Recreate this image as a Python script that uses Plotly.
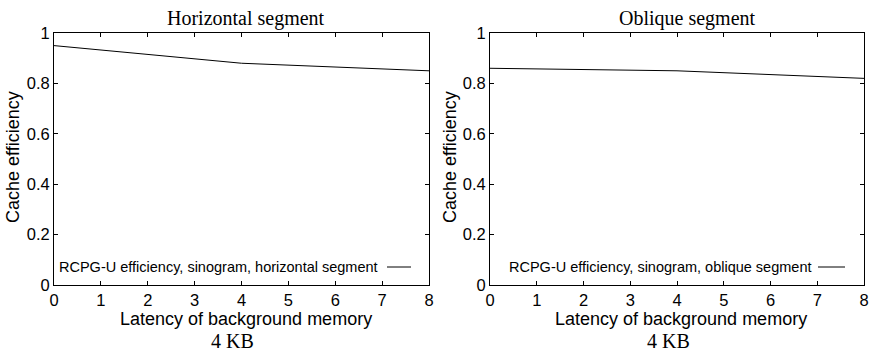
import plotly.graph_objects as go

# ---- data ----
latency = [0, 4, 8]
eff_horizontal = [0.95, 0.88, 0.85]
eff_oblique = [0.86, 0.85, 0.82]
series_names = ["RCPG-U efficiency, sinogram, horizontal segment",
                "RCPG-U efficiency, sinogram, oblique segment"]
panel_titles = ["Horizontal segment", "Oblique segment"]
panel_captions = ["4 KB", "4 KB"]
x_title = "Latency of background memory"
y_title = "Cache efficiency"
x_ticks = [0, 1, 2, 3, 4, 5, 6, 7, 8]
y_ticks = [0, 0.2, 0.4, 0.6, 0.8, 1]

W, H = 873, 353
SANS = "Liberation Sans, Arial, Helvetica, sans-serif"
SERIF = "Liberation Serif, Times New Roman, serif"

def px(x):
    return x / W

def py(y):
    return 1 - y / H

fig = go.Figure()
fig.add_trace(go.Scatter(x=latency, y=eff_horizontal, mode="lines", name=series_names[0],
                         line=dict(color="black", width=1), xaxis="x", yaxis="y", showlegend=False))
fig.add_trace(go.Scatter(x=latency, y=eff_oblique, mode="lines", name=series_names[1],
                         line=dict(color="black", width=1), xaxis="x2", yaxis="y2", showlegend=False))

# plot areas (pixels)
left_box = (54, 429)
right_box = (490, 864)
top_px, bottom_px = 33, 285

axis_common = dict(showline=True, linecolor="black", linewidth=1, mirror="ticks",
                   ticks="inside", ticklen=4, tickwidth=1, tickcolor="black",
                   showgrid=False, zeroline=False, automargin=False,
                   tickfont=dict(family=SANS, size=16.5, color="black"))

fig.update_layout(
    width=W, height=H,
    margin=dict(l=0, r=0, t=0, b=0, autoexpand=False),
    paper_bgcolor="white", plot_bgcolor="white",
    showlegend=False,
    xaxis=dict(domain=[px(left_box[0]), px(left_box[1])], range=[0, 8], tickvals=x_ticks,
               anchor="y", ticklabelstandoff=0, **axis_common),
    yaxis=dict(domain=[py(bottom_px), py(top_px)], range=[0, 1], tickvals=y_ticks,
               anchor="x", **axis_common),
    xaxis2=dict(domain=[px(right_box[0]), px(right_box[1])], range=[0, 8], tickvals=x_ticks,
                anchor="y2", ticklabelstandoff=0, **axis_common),
    yaxis2=dict(domain=[py(bottom_px), py(top_px)], range=[0, 1], tickvals=y_ticks,
                anchor="x2", **axis_common),
)

ann = []
shapes = []
panels = [
    dict(box=left_box, title_x=246, cap_x=232, ytitle_x=13, leg_right=380, line=(387, 411)),
    dict(box=right_box, title_x=687, cap_x=668, ytitle_x=450, leg_right=813, line=(818, 845)),
]
for i, p in enumerate(panels):
    cx = (p["box"][0] + p["box"][1]) / 2
    ann.append(dict(text=panel_titles[i], x=px(p["title_x"]), y=py(18), xref="paper", yref="paper",
                    xanchor="center", yanchor="middle", showarrow=False,
                    font=dict(family=SERIF, size=20, color="black")))
    ann.append(dict(text=panel_captions[i], x=px(p["cap_x"]), y=py(341), xref="paper", yref="paper",
                    xanchor="center", yanchor="middle", showarrow=False,
                    font=dict(family=SERIF, size=20, color="black")))
    ann.append(dict(text=x_title, x=px(cx + 4), y=py(319), xref="paper", yref="paper",
                    xanchor="center", yanchor="middle", showarrow=False,
                    font=dict(family=SANS, size=18, color="black")))
    ann.append(dict(text=y_title, x=px(p["ytitle_x"]), y=py(157), xref="paper", yref="paper",
                    xanchor="center", yanchor="middle", textangle=-90, showarrow=False,
                    font=dict(family=SANS, size=18, color="black")))
    ann.append(dict(text=series_names[i], x=px(p["leg_right"]), y=py(267), xref="paper", yref="paper",
                    xanchor="right", yanchor="middle", showarrow=False,
                    font=dict(family=SANS, size=14.5, color="black")))
    shapes.append(dict(type="line", xref="paper", yref="paper",
                       x0=px(p["line"][0]), x1=px(p["line"][1]), y0=py(267), y1=py(267),
                       line=dict(color="black", width=1)))

fig.update_layout(annotations=ann, shapes=shapes)

fig.write_html("out.html", config={"displayModeBar": False},
               post_script="document.body.style.margin='0';document.body.style.overflow='hidden';")
